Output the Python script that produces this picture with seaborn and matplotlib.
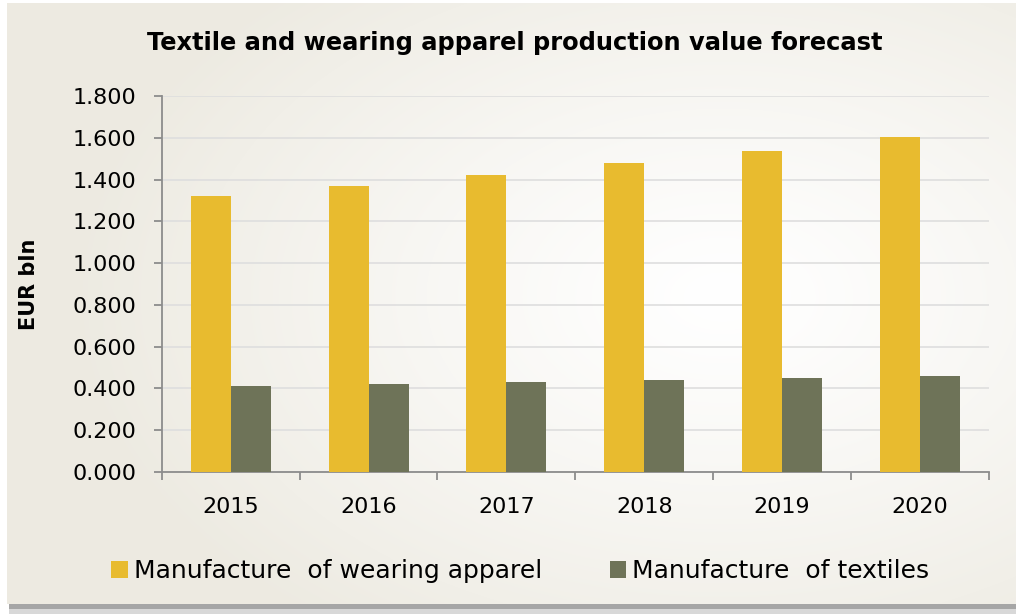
import matplotlib.pyplot as plt
import matplotlib.patches as mpatches
import seaborn as sns
import numpy as np
import pandas as pd

# --- Data ---
years = ['2015', '2016', '2017', '2018', '2019', '2020']
apparel = [1.321, 1.369, 1.422, 1.479, 1.537, 1.604]
textiles = [0.412, 0.421, 0.431, 0.440, 0.450, 0.460]
series_names = ['Manufacture  of wearing apparel', 'Manufacture  of textiles']
colors = ['#E8BB2F', '#6E7358']

df = pd.DataFrame({
    'year': years * 2,
    'series': [series_names[0]] * len(years) + [series_names[1]] * len(years),
    'value': apparel + textiles,
})

sns.set_style('white')
plt.rcParams['font.family'] = ['DejaVu Sans']
plt.rcParams['text.color'] = 'black'
plt.rcParams['axes.labelcolor'] = 'black'
plt.rcParams['xtick.labelcolor'] = 'black'
plt.rcParams['ytick.labelcolor'] = 'black'

W, H = 1016, 614
fig = plt.figure(figsize=(W / 100, H / 100), dpi=100)

# --- Background panel with radial gradient and shadow ---
bg = fig.add_axes([0, 0, 1, 1], zorder=-10)
bg.set_xlim(0, W); bg.set_ylim(H, 0); bg.axis('off')
yy, xx = np.mgrid[0:H, 0:W]
d = np.sqrt(((xx - 720) / 650) ** 2 + ((yy - 300) / 420) ** 2)
t = np.clip(d, 0, 1) ** 1.2
edge = np.array([0.93, 0.92, 0.885])
img = (1 - t[..., None]) * np.ones(3) + t[..., None] * edge
bg.add_patch(mpatches.Rectangle((9, 603), W, 9, color='#A6A6A6', lw=0, zorder=1))
bg.add_patch(mpatches.Rectangle((9, 609), W, 5, color='#D8D8D8', lw=0, zorder=1))
bg.imshow(img, extent=(7, W, 604, 3), zorder=2, aspect='auto')

# --- Main plot ---
ax = fig.add_axes([161.7 / W, 1 - 472 / H, (989 - 161.7) / W, (472 - 96) / H])
ax.set_facecolor('none')
sns.barplot(data=df, x='year', y='value', hue='series', palette=colors,
            width=0.58, saturation=1, ax=ax, linewidth=0, zorder=3)

ax.set_ylim(0, 1.8)
ax.set_xlim(-0.5, 5.5)
yt = np.arange(0, 1.81, 0.2)
ax.set_yticks(yt)
ax.set_yticklabels([f'{v:.3f}' for v in yt], fontsize=16)
ax.grid(axis='y', color='#DEDEDE', linewidth=1.2, zorder=0)
ax.set_axisbelow(True)

for s in ['top', 'right']:
    ax.spines[s].set_visible(False)
for s in ['left', 'bottom']:
    ax.spines[s].set_color('#8C8C8C')
    ax.spines[s].set_linewidth(1.3)

ax.tick_params(axis='y', length=6, width=1.3, color='#8C8C8C', pad=12, left=True)
ax.tick_params(axis='x', which='major', length=0, pad=18, labelsize=16)
ax.set_xticks(np.arange(-0.5, 5.6, 1), minor=True)
ax.tick_params(axis='x', which='minor', length=6, width=1.3, color='#8C8C8C', bottom=True)

ax.set_xlabel('')
ax.set_ylabel('EUR bln', fontsize=15, fontweight='bold')
ax.yaxis.set_label_coords(-0.148, 0.5)

handles, labels = ax.get_legend_handles_labels()
ax.get_legend().remove()
fig.legend(handles, labels, loc='center', bbox_to_anchor=(0.512, 0.07), ncol=2,
           frameon=False, fontsize=18, handlelength=0.65, handleheight=0.65,
           handletextpad=0.25, columnspacing=2.7)

fig.text(0.507, 1 - 43 / H, 'Textile and wearing apparel production value forecast',
         ha='center', va='center', fontsize=17.4, fontweight='bold')

fig.savefig('out.png', dpi=100)
